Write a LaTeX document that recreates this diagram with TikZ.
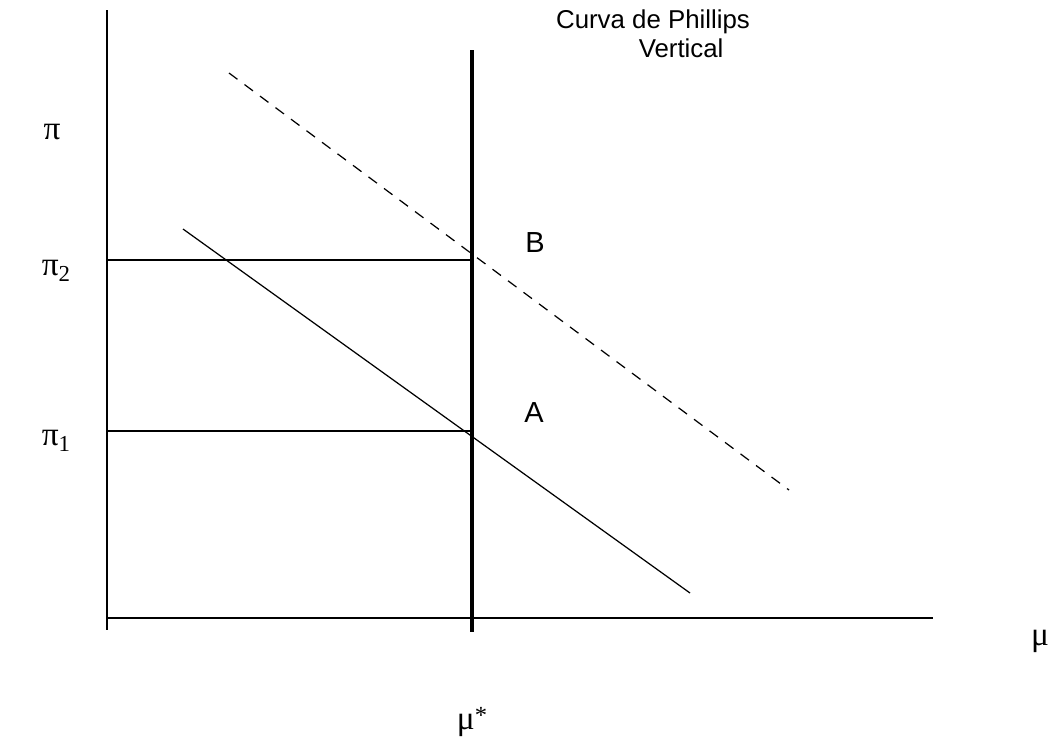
\documentclass[tikz,border=0pt]{standalone}
\usepackage{amsmath,amssymb}
\usepackage{fontspec}
\setsansfont{Liberation Sans}
\newfontfamily\grk{Liberation Serif}
\usepackage{tikz}

\newcommand{\sbs}[1]{\raisebox{-0.35ex}{\fontsize{13}{13}\selectfont #1}}

\begin{document}
\begin{tikzpicture}[
  x=0.02cm, y=-0.02cm,
  axis/.style={line width=0.9pt},
  guide/.style={line width=0.6pt},
  lrs/.style={line width=2.3pt},
  curve/.style={line width=0.7pt},
  lbl/.style={font=\sffamily\fontsize{16.5}{18}\selectfont, inner sep=0pt},
  ttl/.style={font=\sffamily\fontsize{14.7}{16.5}\selectfont, inner sep=0pt, align=left},
  sym/.style={font=\grk\fontsize{19}{21}\selectfont, inner sep=0pt}]
\useasboundingbox (0,0) rectangle (1056,738);
% axes
\coordinate (o) at (107,618);
\coordinate (ytop) at (107,10);
\coordinate (xend) at (933,618);
\draw[axis] (ytop) -- (107,630);
\draw[axis] (o) -- (xend);
% vertical Phillips curve
\coordinate (vtop) at (472,50);
\coordinate (vbot) at (472,632);
\draw[lrs] (vtop) -- (vbot);
% inflation levels
\coordinate (p2l) at (107,260);
\coordinate (p2r) at (472,260);
\coordinate (p1l) at (107,431);
\coordinate (p1r) at (472,431);
\draw[guide] (p2l) -- (p2r);
\draw[guide] (p1l) -- (p1r);
% short-run curves
\coordinate (s1a) at (183,229);
\coordinate (s1b) at (690,593);
\coordinate (s2a) at (229,73);
\coordinate (s2b) at (789,490);
\draw[curve] (s1a) -- (s1b);
\draw[curve, dash pattern=on 6pt off 5pt] (s2a) -- (s2b);
% labels
\node[sym] (pi) at (52,132) {π};
\node[sym] (pi2) at (56,271) {π\sbs{2}};
\node[sym] (pi1) at (56,441) {π\sbs{1}};
\node[sym] (mu) at (1040,641) {μ};
\node[sym] (mustar) at (472,722) {μ\raisebox{0.45ex}{\fontsize{14}{14}\selectfont *}};
\node[lbl] (B) at (535,243) {B};
\node[lbl] (A) at (534,413) {A};
\node[ttl] (title) at (653,34) {Curva de Phillips\\\hspace*{3.2em}Vertical};
\end{tikzpicture}
\end{document}
